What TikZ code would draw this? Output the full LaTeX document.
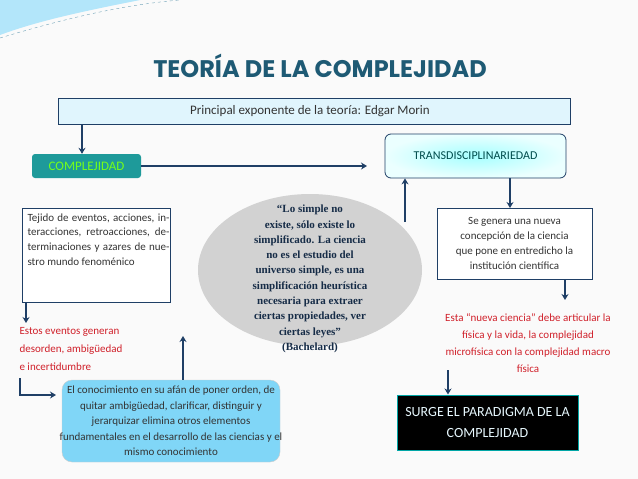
\documentclass[tikz,border=0pt]{standalone}
\usepackage{fontspec}
\setmainfont{Carlito}
\newfontfamily\qfont{Liberation Serif}
\newfontfamily\tfont{Poppins}
\usetikzlibrary{arrows.meta,shapes.geometric}
\definecolor{navy}{HTML}{1F3F66}
\definecolor{teal1}{HTML}{1E9A9A}
\definecolor{redt}{HTML}{D0202A}
\definecolor{titlec}{HTML}{1E5A74}
\tikzset{arr/.style={draw=navy,line width=1.6pt,-{Stealth[length=6pt,width=7pt]}},
 txt/.style={font=\fontsize{11}{15}\selectfont,text=black!80},
 box/.style={draw=navy,line width=0.8pt,fill=white}}
\begin{document}
\begin{tikzpicture}[x=1pt,y=-1pt]
\useasboundingbox[fill=white!96!gray] (0,0) rectangle (638,479);
\fill[cyan!30] (0,0) -- (140,0) .. controls (90,10) and (40,20) .. (0,35) -- cycle;
\draw[cyan!40!gray,dashed] (0,38) .. controls (60,20) and (120,5) .. (180,0);
\node (title) at (320,66) {\tfont\bfseries\fontsize{24}{26}\selectfont\color{titlec}TEORÍA DE LA COMPLEJIDAD};
\node[box,fill=cyan!12,minimum width=512,minimum height=26,anchor=north west,inner sep=0] (princ) at (58,98) {};
\node[txt,font=\fontsize{13}{15}\selectfont] at (310,111) {Principal exponente de la teoría: Edgar Morin};
\node[fill=teal1,rounded corners=3pt,minimum width=109,minimum height=24,inner sep=0,text=green!60!yellow!90!white,font=\fontsize{13}{15}\selectfont] (comp) at (86.5,166) {COMPLEJIDAD};
\node[draw=navy,line width=0.8pt,rounded corners=6pt,inner color=cyan!35,outer color=cyan!8!white,minimum width=181,minimum height=44,inner sep=0,text=teal!60!black,font=\fontsize{12}{14}\selectfont] (trans) at (475.5,156) {TRANSDISCIPLINARIEDAD};
\node[box,anchor=north west,minimum width=155,minimum height=71,inner sep=0] (gen) at (437,208) {};
\node[txt,align=center] at (514.5,243.5) {Se genera una nueva\\concepción de la ciencia\\que pone en entredicho la\\institución científica};
\node[box,anchor=north west,minimum width=148,minimum height=94,inner sep=0] (tej) at (22,208) {};
\node[txt,anchor=north west,text width=142,align=justify,font=\fontsize{11}{14.7}\selectfont] at (24,210) {Tejido de eventos, acciones, interacciones, retroacciones, determinaciones y azares de nuestro mundo fenoménico};
\node[fill=gray!35,ellipse,minimum width=224,minimum height=152,inner sep=0] (ell) at (310,270) {};
\node[font=\qfont\bfseries\fontsize{11}{15.3}\selectfont,align=center,text=navy!70!black] at (310,279) {“Lo simple no\\existe, sólo existe lo\\simplificado. La ciencia\\no es el estudio del\\universo simple, es una\\simplificación heurística\\necesaria para extraer\\ciertas propiedades, ver\\ciertas leyes”\\(Bachelard)};
\node[text=redt,align=left,anchor=north west,font=\fontsize{11}{18}\selectfont] (est) at (16,324) {Estos eventos generan\\desorden, ambigüedad\\e incertidumbre};
\node[text=redt,align=center,font=\fontsize{11}{17}\selectfont] (esta) at (528,343) {Esta “nueva ciencia” debe articular la\\física y la vida, la complejidad\\microfísica con la complejidad macro\\física};
\node[fill=cyan!50!white,draw=gray!40,rounded corners=10pt,minimum width=218,minimum height=82,inner sep=0] (conoc) at (171,421) {};
\node[txt,align=center,font=\fontsize{11}{15.5}\selectfont] at (171,421) {El conocimiento en su afán de poner orden, de\\quitar ambigüedad, clarificar, distinguir y\\jerarquizar elimina otros elementos\\fundamentales en el desarrollo de las ciencias y el\\mismo conocimiento};
\node[fill=black,draw=teal!70!cyan,line width=1pt,minimum width=181,minimum height=55,inner sep=0,align=center,text=cyan!10,font=\fontsize{14}{21}\selectfont] (surge) at (487.5,422.5) {SURGE EL PARADIGMA DE LA\\COMPLEJIDAD};
\coordinate (c1) at (367,166);
\coordinate (ellb) at (183,336);
\coordinate (ellr) at (405,222);
\coordinate (gbot) at (565,300);
\coordinate (e0) at (20,378);
\coordinate (e1) at (56,395);
\draw[arr] (82,124) -- (comp.north -| 82,0);
\draw[arr] (comp.east) -- (c1);
\draw[arr] (ellr) -- (trans.south -| ellr);
\draw[arr] (trans.south -| 510,0) -- (gen.north -| 510,0);
\draw[arr] (gen.south -| gbot) -- (gbot);
\draw[arr] (tej.south -| 26,0) -- (26,323);
\draw[arr] (e0) |- (e1);
\draw[arr] (conoc.north -| ellb) -- (ellb);
\draw[arr] (448,370) -- (surge.north -| 448,0);
\end{tikzpicture}
\end{document}
